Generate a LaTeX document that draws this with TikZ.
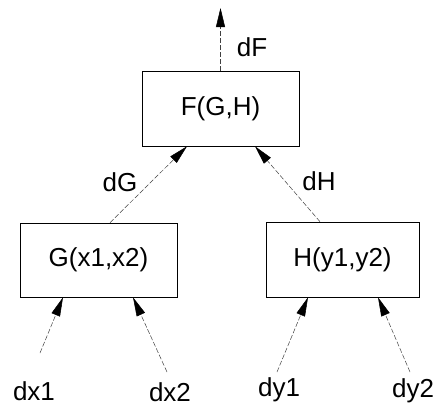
\documentclass[tikz,border=0pt]{standalone}
\usepackage{fontspec}
\setmainfont{Liberation Sans}
\usetikzlibrary{arrows.meta}
\begin{document}
\begin{tikzpicture}[x=1pt,y=-1pt,
  box/.style={draw=black, line width=0.6pt, inner sep=0pt},
  conn/.style={draw=black!75, line width=0.5pt, dash pattern=on 5pt off 2pt, -{Triangle[length=19pt,width=9pt,color=black]}},
  lbl/.style={inner sep=0pt},
  every node/.style={font=\fontsize{26}{31}\selectfont}]
\useasboundingbox (0,0) rectangle (433,415);
\node[box, minimum width=157pt, minimum height=75pt] (F) at (220.5,108.5) {F(G,H)};
\node[box, minimum width=157pt, minimum height=74pt] (G) at (98.5,260) {G(x1,x2)};
\node[box, minimum width=153pt, minimum height=75pt] (H) at (342.5,259.5) {H(y1,y2)};
\coordinate (top) at (220.5,8);
\coordinate (tx1) at (40,353);
\coordinate (tx2) at (167,372);
\coordinate (ty1) at (277,372);
\coordinate (ty2) at (410,372);
\node[lbl] (dF) at (252,47) {dF};
\node[lbl] (dG) at (120,182) {dG};
\node[lbl] (dH) at (319,181) {dH};
\node[lbl] (dx1) at (34,391) {dx1};
\node[lbl] (dx2) at (170,392) {dx2};
\node[lbl] (dy1) at (279,390) {dy1};
\node[lbl] (dy2) at (413,391) {dy2};
\draw[conn] (F.north) -- (top);
\draw[conn] (G.north -| 110,0) -- (F.south -| 187,0);
\draw[conn] (H.north -| 320,0) -- (F.south -| 255,0);
\draw[conn] (tx1) -- (G.south -| 63,0);
\draw[conn] (tx2) -- (G.south -| 133,0);
\draw[conn] (ty1) -- (H.south -| 308,0);
\draw[conn] (ty2) -- (H.south -| 378,0);
\end{tikzpicture}
\end{document}
